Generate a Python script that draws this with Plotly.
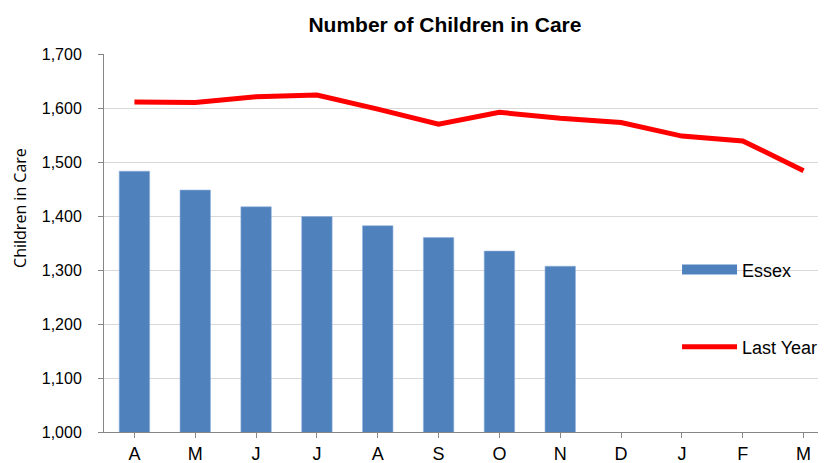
import plotly.graph_objects as go

# months Apr..Mar
months = ["A", "M", "J", "J", "A", "S", "O", "N", "D", "J", "F", "M"]
essex = [1483, 1448, 1417, 1399, 1382, 1360, 1335, 1307, None, None, None, None]
last_year = [1611, 1610, 1621, 1624, 1598, 1570, 1592, 1581, 1573, 1548, 1539, 1484]

x_idx = list(range(len(months)))
blue = "#4f81bd"
red = "#ff0000"
arial = "Liberation Sans, Arial, sans-serif"

fig = go.Figure()
fig.add_trace(go.Bar(
    x=x_idx, y=essex, name="Essex", width=0.5, showlegend=False,
    marker=dict(color=blue, line=dict(color="#8fb0dc", width=0.6)),
))
fig.add_trace(go.Scatter(
    x=x_idx, y=last_year, name="Last Year", mode="lines",
    line=dict(color=red, width=5), showlegend=False,
))
# legend entries (the bar one drawn as a thick band like the original)
# a little trailing space keeps the wide legend from clipping the text
pad = "\u00a0\u2009"
fig.add_trace(go.Scatter(x=[None], y=[None], name="Essex" + pad, mode="lines",
                         line=dict(color=blue, width=10), legend="legend"))
fig.add_trace(go.Scatter(x=[None], y=[None], name="Last Year" + pad, mode="lines",
                         line=dict(color=red, width=5), legend="legend2"))

# white patch behind the legend, hides the gridlines there
fig.add_shape(type="rect", xref="paper", yref="paper", layer="between",
              x0=0.779, x1=1.0, y0=0.185, y1=0.52,
              fillcolor="white", line=dict(width=0))

fig.add_annotation(text="Children in Care", xref="paper", yref="paper",
                   x=-0.115, y=0.593, xanchor="center", yanchor="middle",
                   textangle=-90, showarrow=False,
                   font=dict(family="Open Sans, sans-serif", size=16, color="#000"))

# page is drawn 8px in from the top-left, margins compensate
fig.update_layout(
    width=826, height=463,
    margin=dict(l=96, r=0, t=46, b=39),
    plot_bgcolor="white", paper_bgcolor="white",
    font=dict(family=arial, size=16, color="#000"),
    title=dict(text="<b>Number of Children in Care</b>", x=0.467, xanchor="center",
               xref="paper", y=0.963, yanchor="middle",
               font=dict(size=21, family=arial, color="#000")),
    legend=dict(x=0.785, y=0.429, xanchor="left", yanchor="middle",
                bgcolor="rgba(0,0,0,0)", itemwidth=55,
                font=dict(family=arial, size=18, color="#000")),
    legend2=dict(x=0.785, y=0.225, xanchor="left", yanchor="middle",
                 bgcolor="rgba(0,0,0,0)", itemwidth=55,
                 font=dict(family=arial, size=18, color="#000")),
    showlegend=True,
)
fig.update_xaxes(
    tickmode="array", tickvals=x_idx, ticktext=months,
    range=[-0.5, 11.5], showline=True, linecolor="#868686", linewidth=1,
    ticks="outside", tickson="boundaries", ticklen=5, tickcolor="#868686",
    showgrid=False, zeroline=False, automargin=False,
    tickfont=dict(family=arial, size=18, color="#000"),
)
fig.update_yaxes(
    range=[1000, 1700], dtick=100, tickformat=",d",
    showline=True, linecolor="#868686", linewidth=1,
    ticks="outside", ticklen=5, tickcolor="#868686", ticklabelstandoff=13,
    gridcolor="#d9d9d9", gridwidth=1, zeroline=False, automargin=False,
    tickfont=dict(family=arial, size=16, color="#000"),
)

fig.write_html("out.html")
